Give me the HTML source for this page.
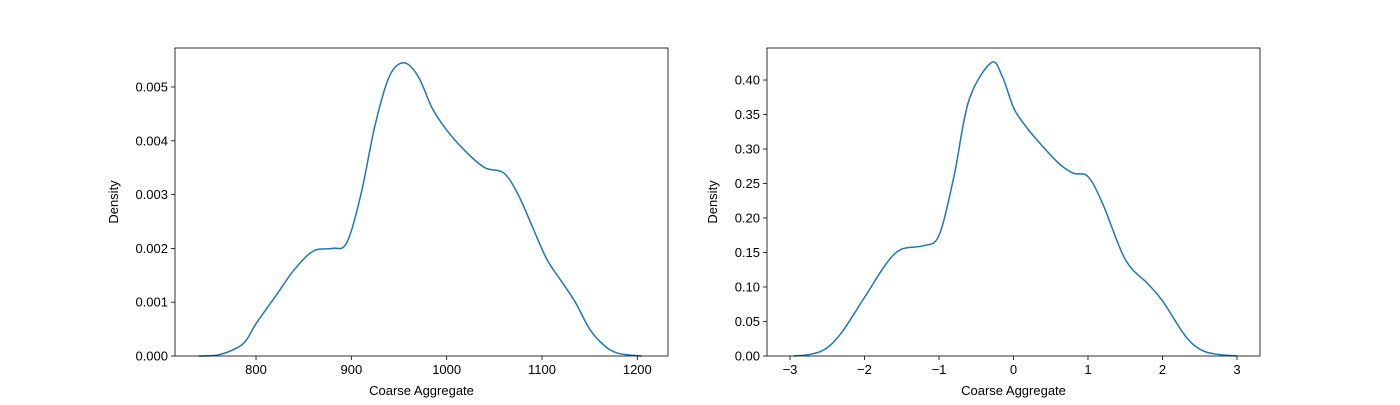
<!DOCTYPE html>
<html><head><meta charset="utf-8"><style>
body{margin:0;background:#fff;}
svg text{font-family:"Liberation Sans","DejaVu Sans",sans-serif;font-size:13px;fill:#000;}
</style></head><body>
<svg id="c" width="1400" height="400" xmlns="http://www.w3.org/2000/svg"></svg>
<script>
const leftX=[740,760,780,790,800,820,840,860,880,895,910,925,940,955,970,985,1000,1020,1040,1060,1075,1090,1105,1120,1135,1150,1165,1180,1205];
const leftY=[0,0.00002,0.00015,0.0003,0.0006,0.0011,0.0016,0.00195,0.002,0.0021,0.0030,0.0043,0.0052,0.00545,0.0052,0.0046,0.0042,0.0038,0.0035,0.0034,0.0030,0.0024,0.0018,0.0014,0.001,0.0005,0.0002,0.00005,0];
const rightX=[-2.95,-2.7,-2.5,-2.3,-2,-1.7,-1.5,-1.2,-1,-0.8,-0.6,-0.3,-0.15,0,0.15,0.3,0.6,0.8,1,1.2,1.5,1.8,2,2.3,2.5,2.7,3];
const rightY=[0,0.003,0.012,0.035,0.085,0.135,0.155,0.16,0.175,0.26,0.37,0.425,0.405,0.36,0.335,0.315,0.28,0.265,0.26,0.22,0.14,0.105,0.08,0.03,0.01,0.003,0];
const leftXTicks=[800,900,1000,1100,1200];
const leftYTicks=[0,0.001,0.002,0.003,0.004,0.005];
const leftYLabels=["0.000","0.001","0.002","0.003","0.004","0.005"];
const rightXTicks=[-3,-2,-1,0,1,2,3];
const rightXLabels=["\u22123","\u22122","\u22121","0","1","2","3"];
const rightYTicks=[0,0.05,0.1,0.15,0.2,0.25,0.3,0.35,0.4];
const rightYLabels=["0.00","0.05","0.10","0.15","0.20","0.25","0.30","0.35","0.40"];
const svg=document.getElementById('c');const NS='http://www.w3.org/2000/svg';
function mk(t,a,p){const e=document.createElementNS(NS,t);for(const k in a)e.setAttribute(k,a[k]);(p||svg).appendChild(e);return e;}
function panel(name,L,R,T,B,x0,x1,y0,y1,xs,ys,xt,xl,yt,yl,yoff){
 const g=mk('g',{});
 
 
 const sx=v=>L+(v-x0)/(x1-x0)*(R-L), sy=v=>B-(v-y0)/(y1-y0)*(B-T);
 const pts=xs.map((v,i)=>[sx(v),sy(ys[i])]);
 let d='M'+pts[0][0]+','+pts[0][1];
 for(let i=0;i<pts.length-1;i++){const p0=pts[Math.max(0,i-1)],p1=pts[i],p2=pts[i+1],p3=pts[Math.min(pts.length-1,i+2)];
  d+=` C${p1[0]+(p2[0]-p0[0])/6},${p1[1]+(p2[1]-p0[1])/6} ${p2[0]-(p3[0]-p1[0])/6},${p2[1]-(p3[1]-p1[1])/6} ${p2[0]},${p2[1]}`;}
 const line=mk('path',{d:d,fill:'none',stroke:'#1f77b4','stroke-width':1.5},g);
 
 
 const fr=mk('rect',{x:L,y:T,width:R-L,height:B-T,fill:'none',stroke:'#000','stroke-width':0.8},g);
 
 
 xt.forEach((v,i)=>{const x=sx(v);mk('line',{x1:x,x2:x,y1:B,y2:B+4,stroke:'#000','stroke-width':0.8},g);
  const t=mk('text',{x:x,y:B+18,'text-anchor':'middle'},g);t.textContent=xl[i];
  
  });
 yt.forEach((v,i)=>{const y=sy(v);mk('line',{x1:L-4,x2:L,y1:y,y2:y,stroke:'#000','stroke-width':0.8},g);
  const t=mk('text',{x:L-7,y:y+4.5,'text-anchor':'end'},g);t.textContent=yl[i];
  
  });
 const xa=mk('text',{x:(L+R)/2,y:B+39,'text-anchor':'middle'},g);xa.textContent='Coarse Aggregate';
 
 
 const ya=mk('text',{x:0,y:0,'text-anchor':'middle',transform:`translate(${L-yoff},${(T+B)/2}) rotate(-90)`},g);ya.textContent='Density';
 
 
}
panel('left-panel',175,668,48,356,715.0,1232.2,0,0.005725,leftX,leftY,leftXTicks,leftXTicks.map(String),leftYTicks,leftYLabels,57);
panel('right-panel',767,1260,48,356,-3.309,3.309,0,0.4464,rightX,rightY,rightXTicks,rightXLabels,rightYTicks,rightYLabels,50);
</script>
</body></html>
